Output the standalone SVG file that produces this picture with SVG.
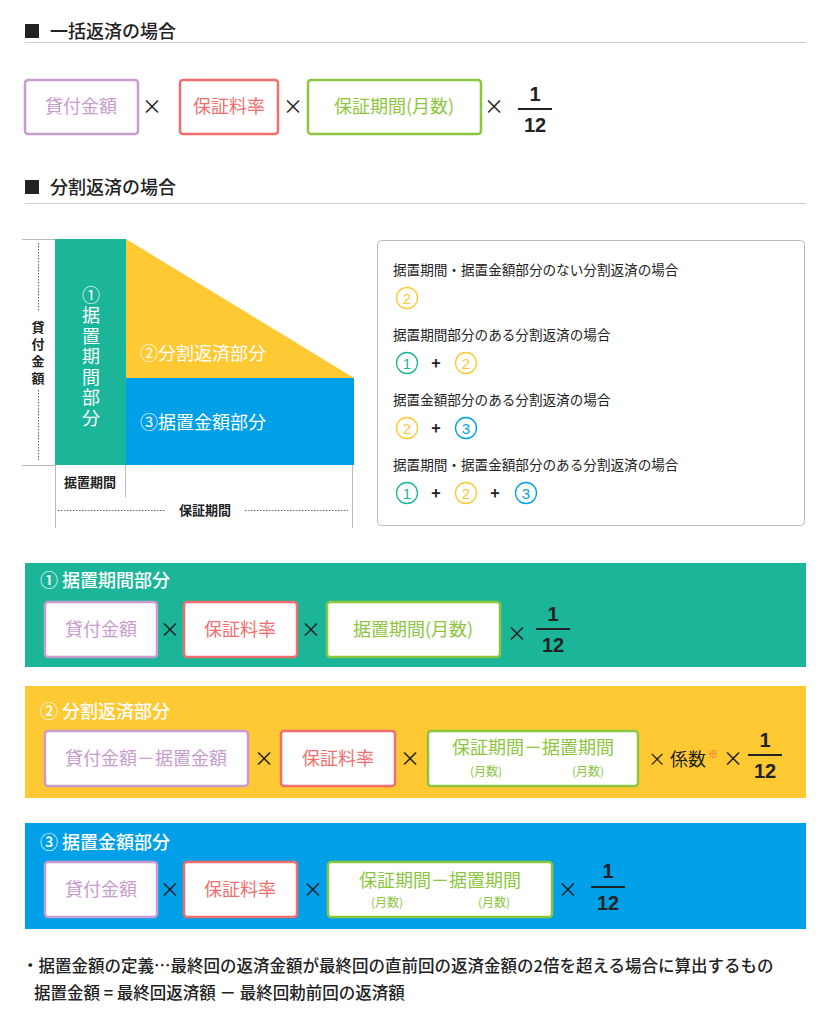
<svg xmlns="http://www.w3.org/2000/svg" width="819" height="1024" viewBox="0 0 819 1024">
<style>
text{font-family:"Noto Sans CJK JP","Noto Sans",sans-serif;fill:#222}
.h{font-size:18px;font-weight:500}
.b{fill:#fff;stroke-width:2.5}
.pu{stroke:#c89ccd}.re{stroke:#f06e6e}.gr{stroke:#8cc63f}
.tp{fill:#c89ccd;font-size:18px;text-anchor:middle}
.tr{fill:#f06e6e;font-size:18px;text-anchor:middle}
.tg{fill:#8cc63f;font-size:18px;text-anchor:middle}
.sg{fill:#8cc63f;font-size:12px;text-anchor:middle}
.x{font-size:20px;text-anchor:middle}
.fr{font-size:20px;font-weight:bold;text-anchor:middle;font-family:"Liberation Sans",sans-serif}
.w{fill:#fff}
.lg{font-size:13.6px}
.c{fill:none;stroke-width:1.3}
.ct{font-size:15px;text-anchor:middle;font-family:"Liberation Sans",sans-serif}
.v{writing-mode:vertical-rl}
</style>
<rect width="819" height="1024" fill="#fff"/>
<g id="h1"><rect x="25" y="24" width="14" height="14" fill="#222"/><text x="50" y="38" class="h">一括返済の場合</text><line x1="25" y1="42.5" x2="806" y2="42.5" stroke="#ccc"/></g>
<g id="row1">
<rect class="b pu" x="25" y="80" width="113" height="54" rx="3"/><text class="tp" x="81" y="113">貸付金額</text>
<text class="x" x="152" y="114">×</text>
<rect class="b re" x="180" y="80" width="98" height="54" rx="3"/><text class="tr" x="229" y="113">保証料率</text>
<text class="x" x="293" y="114">×</text>
<rect class="b gr" x="308" y="80" width="173" height="54" rx="3"/><text class="tg" x="394" y="113">保証期間(月数)</text>
<text class="x" x="494" y="114">×</text>
<text class="fr" x="535" y="101">1</text><line x1="518" y1="109" x2="552" y2="109" stroke="#222" stroke-width="2"/><text class="fr" x="535" y="132">12</text>
</g>
<g id="h2"><rect x="25" y="180" width="14" height="14" fill="#222"/><text x="50" y="194" class="h">分割返済の場合</text><line x1="25" y1="203.5" x2="806" y2="203.5" stroke="#ccc"/></g>
<g id="chart">
<rect x="55" y="239" width="71" height="226" fill="#1bb59a"/>
<polygon points="126,239 354,378 126,378" fill="#ffc933"/>
<rect x="126" y="378" width="228" height="87" fill="#00a0e9"/>
<g stroke="#bbb" fill="none">
<line x1="22" y1="239.5" x2="55" y2="239.5"/><line x1="22" y1="465.5" x2="55" y2="465.5"/>
<line x1="55.5" y1="465" x2="55.5" y2="528"/><line x1="125.5" y1="465" x2="125.5" y2="497"/><line x1="352.5" y1="465" x2="352.5" y2="528"/>
<line x1="38.5" y1="243" x2="38.5" y2="312" stroke-dasharray="1.5 1.5" stroke="#666"/><line x1="38.5" y1="390" x2="38.5" y2="460" stroke-dasharray="1.5 1.5" stroke="#666"/>
<line x1="58" y1="510.5" x2="165" y2="510.5" stroke-dasharray="1.5 1.5" stroke="#666"/><line x1="245" y1="510.5" x2="348" y2="510.5" stroke-dasharray="1.5 1.5" stroke="#666"/>
</g>
<text class="v" x="38" y="321" font-size="13" font-weight="bold" letter-spacing="4">貸付金額</text>
<text class="v w" x="91" y="286" font-size="18" letter-spacing="2.5">①据置期間部分</text>
<text class="w" x="140" y="360" font-size="18">②分割返済部分</text>
<text class="w" x="140" y="429" font-size="18">③据置金額部分</text>
<text x="90" y="487" font-size="13" font-weight="bold" text-anchor="middle">据置期間</text>
<text x="205" y="515" font-size="13" font-weight="bold" text-anchor="middle">保証期間</text>
</g>
<g id="legend">
<rect x="377.5" y="240.5" width="427" height="285" rx="4" fill="#fff" stroke="#bbb"/>
<text class="lg" x="393" y="275">据置期間・据置金額部分のない分割返済の場合</text>
<circle class="c" cx="407" cy="298" r="10.5" stroke="#ffc933"/><text class="ct" x="407" y="303.5" style="fill:#ffc933">2</text>
<text class="lg" x="393" y="340">据置期間部分のある分割返済の場合</text>
<circle class="c" cx="407" cy="363" r="10.5" stroke="#1bb59a"/><text class="ct" x="407" y="368.5" style="fill:#1bb59a">1</text>
<text x="436" y="369" font-size="16" font-weight="bold" text-anchor="middle">+</text>
<circle class="c" cx="466" cy="363" r="10.5" stroke="#ffc933"/><text class="ct" x="466" y="368.5" style="fill:#ffc933">2</text>
<text class="lg" x="393" y="405">据置金額部分のある分割返済の場合</text>
<circle class="c" cx="407" cy="428" r="10.5" stroke="#ffc933"/><text class="ct" x="407" y="433.5" style="fill:#ffc933">2</text>
<text x="436" y="434" font-size="16" font-weight="bold" text-anchor="middle">+</text>
<circle class="c" cx="466" cy="428" r="10.5" stroke="#00a0e9"/><text class="ct" x="466" y="433.5" style="fill:#00a0e9">3</text>
<text class="lg" x="393" y="470">据置期間・据置金額部分のある分割返済の場合</text>
<circle class="c" cx="407" cy="493" r="10.5" stroke="#1bb59a"/><text class="ct" x="407" y="498.5" style="fill:#1bb59a">1</text>
<text x="436" y="499" font-size="16" font-weight="bold" text-anchor="middle">+</text>
<circle class="c" cx="466" cy="493" r="10.5" stroke="#ffc933"/><text class="ct" x="466" y="498.5" style="fill:#ffc933">2</text>
<text x="495" y="499" font-size="16" font-weight="bold" text-anchor="middle">+</text>
<circle class="c" cx="526" cy="493" r="10.5" stroke="#00a0e9"/><text class="ct" x="526" y="498.5" style="fill:#00a0e9">3</text>
</g>
<g id="s1">
<rect x="25" y="563" width="781" height="104" fill="#1bb59a"/>
<text class="h w" x="40" y="587">① 据置期間部分</text>
<rect class="b pu" x="45" y="602" width="112" height="55" rx="3"/><text class="tp" x="101" y="636">貸付金額</text>
<text class="x" x="170" y="637">×</text>
<rect class="b re" x="184" y="602" width="113" height="55" rx="3"/><text class="tr" x="240" y="636">保証料率</text>
<text class="x" x="311" y="637">×</text>
<rect class="b gr" x="327" y="602" width="173" height="55" rx="3"/><text class="tg" x="413" y="636">据置期間(月数)</text>
<text class="x" x="517" y="641">×</text>
<text class="fr" x="553" y="621">1</text><line x1="536" y1="629" x2="570" y2="629" stroke="#222" stroke-width="2"/><text class="fr" x="553" y="652">12</text>
</g>
<g id="s2">
<rect x="25" y="686" width="781" height="112" fill="#ffc933"/>
<text class="h w" x="40" y="718">② 分割返済部分</text>
<rect class="b pu" x="45" y="731" width="203" height="55" rx="3"/><text class="tp" x="146" y="765">貸付金額－据置金額</text>
<text class="x" x="264" y="766">×</text>
<rect class="b re" x="281" y="731" width="114" height="55" rx="3"/><text class="tr" x="338" y="765">保証料率</text>
<text class="x" x="410" y="766">×</text>
<rect class="b gr" x="428" y="731" width="210" height="55" rx="3"/><text class="tg" x="533" y="754">保証期間－据置期間</text>
<text class="sg" x="486" y="776">(月数)</text><text class="sg" x="588" y="776">(月数)</text>
<text x="648" y="766" font-size="18">× 係数</text><text x="708" y="758" font-size="10" style="fill:#e9542e">※</text><text class="x" x="733" y="766">×</text>
<text class="fr" x="765" y="747">1</text><line x1="748" y1="755" x2="782" y2="755" stroke="#222" stroke-width="2"/><text class="fr" x="765" y="778">12</text>
</g>
<g id="s3">
<rect x="25" y="823" width="781" height="106" fill="#00a0e9"/>
<text class="h w" x="40" y="849">③ 据置金額部分</text>
<rect class="b pu" x="45" y="862" width="112" height="55" rx="3"/><text class="tp" x="101" y="896">貸付金額</text>
<text class="x" x="170" y="897">×</text>
<rect class="b re" x="184" y="862" width="113" height="55" rx="3"/><text class="tr" x="240" y="896">保証料率</text>
<text class="x" x="313" y="897">×</text>
<rect class="b gr" x="328" y="862" width="224" height="55" rx="3"/><text class="tg" x="440" y="887">保証期間－据置期間</text>
<text class="sg" x="387" y="907">(月数)</text><text class="sg" x="494" y="907">(月数)</text>
<text class="x" x="568" y="897">×</text>
<text class="fr" x="608" y="878">1</text><line x1="591" y1="887" x2="625" y2="887" stroke="#222" stroke-width="2"/><text class="fr" x="608" y="910">12</text>
</g>
<g id="note" font-size="16.5" font-weight="500">
<text x="22" y="972">・据置金額の定義…最終回の返済金額が最終回の直前回の返済金額の2倍を超える場合に算出するもの</text>
<text x="34" y="999">据置金額 = 最終回返済額 － 最終回勅前回の返済額</text>
</g>
</svg>
